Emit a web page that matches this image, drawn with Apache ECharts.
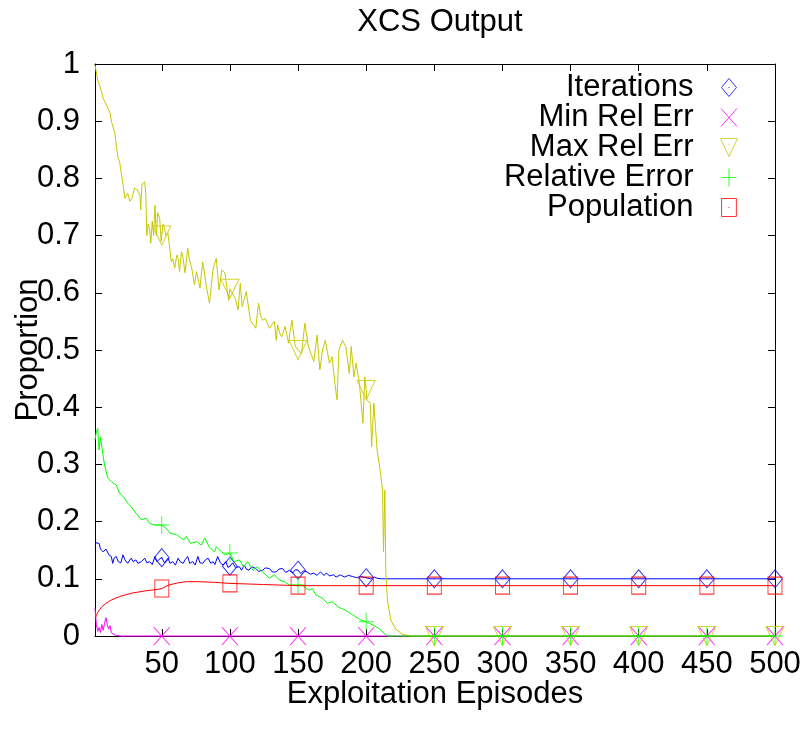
<!DOCTYPE html>
<html><head><meta charset="utf-8">
<script src="https://cdn.jsdelivr.net/npm/echarts@6/dist/echarts.min.js"></script>
<style>html,body{margin:0;padding:0;background:#fff}#c{width:802px;height:733px}</style>
</head><body><div id="c"></div>
<script>
const titleText = 'XCS Output';
const xName = 'Exploitation Episodes';
const yName = 'Proportion';
const seriesNames = ['Iterations', 'Min Rel Err', 'Max Rel Err', 'Relative Error', 'Population'];
const xTicks = [50, 100, 150, 200, 250, 300, 350, 400, 450, 500];
const markerX = [50, 100, 150, 200, 250, 300, 350, 400, 450, 500];

const iterLine = [[1,0.159],[2,0.163],[3,0.16],[4,0.162],[5,0.152],[6,0.155],[7,0.147],[8,0.147],[9,0.152],[10.4,0.15],[11.5,0.141],[13,0.139],[14,0.127],[15,0.136],[16.6,0.139],[18,0.13],[19,0.133],[20,0.128],[21.5,0.142],[23,0.133],[25,0.127],[26,0.131],[27.6,0.136],[29,0.13],[31,0.133],[32.5,0.127],[33.8,0.124],[35,0.13],[37.5,0.136],[39,0.128],[41,0.13],[43,0.125],[45,0.139],[46.5,0.13],[48,0.134],[50,0.137],[52,0.128],[54.6,0.136],[56,0.127],[58,0.13],[60,0.124],[62,0.136],[63.5,0.13],[65.7,0.127],[67,0.133],[69,0.139],[70.5,0.127],[72.7,0.13],[74.5,0.124],[76.5,0.139],[78,0.128],[80,0.127],[82,0.133],[84,0.136],[86,0.127],[87.7,0.13],[89,0.125],[91,0.139],[93,0.128],[95,0.124],[97,0.13],[98.5,0.12],[100,0.122],[102,0.128],[104,0.12],[107,0.121],[108.5,0.115],[110.5,0.124],[112,0.117],[114,0.115],[116,0.121],[119,0.118],[121,0.113],[124,0.115],[126,0.119],[129,0.118],[131,0.112],[134,0.112],[136,0.117],[138.6,0.118],[141,0.111],[143.6,0.115],[146,0.11],[148,0.116],[150,0.115],[152,0.109],[154,0.114],[156.6,0.112],[159,0.108],[161.5,0.11],[164,0.106],[166.4,0.112],[169,0.106],[171,0.11],[173,0.105],[176,0.107],[178,0.103],[181,0.107],[184,0.103],[187,0.106],[190,0.104],[193,0.102],[196,0.104],[200,0.102],[203,0.1],[206,0.103],[208,0.101],[211,0.1],[214.5,0.1],[250,0.1],[300,0.1],[350,0.1],[400,0.1],[450,0.1],[500,0.1]];
const minLine = [[1,0.048],[2,0.02],[3,0.008],[4,0.015],[5,0.006],[6,0.02],[7,0.01],[8,0.022],[9,0.032],[10,0.02],[11,0.012],[12,0.018],[13,0.006],[14,0.004],[15,0.002],[17,0.001],[20,0],[50,0],[100,0],[150,0],[200,0],[250,0],[300,0],[350,0],[400,0],[450,0],[500,0]];
const maxLine = [[1,0.998],[3,0.972],[5,0.958],[7,0.94],[9,0.93],[10.5,0.922],[12,0.915],[13,0.9],[15.5,0.88],[17,0.85],[18,0.835],[19,0.83],[21.5,0.79],[23,0.765],[25,0.774],[26.5,0.76],[28,0.765],[30,0.783],[32,0.78],[34,0.771],[34.5,0.745],[35.5,0.79],[37.5,0.794],[38.3,0.771],[39,0.7],[40,0.72],[41,0.713],[42,0.687],[43,0.725],[44,0.7],[45,0.753],[46,0.7],[47,0.74],[48.5,0.73],[49.5,0.69],[50,0.7],[51,0.72],[52,0.713],[53,0.7],[54.5,0.705],[57,0.654],[58,0.66],[59.5,0.643],[61,0.666],[62,0.66],[63,0.637],[64.5,0.672],[65.7,0.66],[67,0.635],[69,0.678],[70.5,0.655],[72,0.643],[74,0.614],[75.5,0.637],[77,0.62],[78,0.608],[80,0.654],[81,0.64],[82.5,0.614],[85,0.582],[87.7,0.643],[90,0.66],[92,0.605],[94,0.64],[96.3,0.635],[99,0.587],[100,0.607],[102.5,0.596],[104,0.59],[106,0.57],[107.6,0.617],[109,0.576],[112,0.602],[115,0.552],[117,0.545],[119,0.538],[121,0.582],[122.5,0.56],[124,0.552],[126,0.555],[129,0.538],[131,0.545],[132.6,0.55],[134,0.517],[135,0.544],[136.5,0.53],[138,0.523],[140.5,0.541],[143,0.512],[144,0.53],[145.5,0.552],[148,0.506],[150,0.5],[152.6,0.494],[155,0.547],[157.6,0.506],[160,0.49],[161.6,0.48],[164,0.526],[166,0.465],[168,0.5],[170,0.517],[173,0.477],[175,0.488],[177,0.442],[178.6,0.413],[180,0.5],[182.6,0.517],[185,0.506],[187.6,0.459],[189,0.506],[191,0.453],[192.6,0.477],[195,0.442],[197.6,0.372],[199,0.453],[200,0.43],[200.5,0.413],[203,0.407],[204,0.331],[205.6,0.407],[208,0.325],[210.6,0.284],[212,0.255],[212.7,0.147],[213.7,0.255],[214.4,0.11],[215.6,0.063],[218,0.028],[221.7,0.012],[226.6,0.003],[233,0],[250,0],[300,0],[350,0],[400,0],[450,0],[500,0]];
const relLine = [[1,0.343],[2,0.357],[3,0.363],[3.5,0.34],[4,0.325],[5,0.348],[5.5,0.346],[6.7,0.319],[7.5,0.317],[8,0.299],[10.4,0.276],[13,0.27],[16.6,0.264],[19,0.25],[22.7,0.241],[25,0.232],[27.6,0.226],[31,0.215],[35,0.203],[38.7,0.206],[41,0.197],[44.8,0.194],[50,0.194],[53.4,0.188],[56,0.18],[61,0.177],[66,0.168],[68,0.174],[71,0.162],[75.5,0.165],[79,0.159],[81.6,0.171],[85,0.155],[88.7,0.147],[90,0.156],[91,0.159],[94,0.147],[96.5,0.142],[100,0.145],[103,0.13],[107,0.133],[110,0.121],[113,0.13],[117,0.115],[120,0.121],[124,0.112],[129,0.101],[132.6,0.107],[136.3,0.098],[140,0.095],[143.7,0.089],[150,0.089],[153,0.089],[158,0.08],[160.5,0.083],[163,0.072],[168,0.066],[171.5,0.057],[175,0.06],[180,0.05],[185,0.045],[190,0.037],[196,0.028],[200,0.025],[205,0.019],[209.5,0.013],[214.5,0.002],[216,0],[250,0],[300,0],[350,0],[400,0],[450,0],[500,0]];
const popLine = [[1,0.03],[2,0.036],[3,0.041],[4,0.045],[6,0.051],[9,0.057],[13,0.063],[19,0.069],[28,0.075],[38.4,0.079],[48,0.082],[50,0.083],[55,0.089],[62,0.093],[68,0.095],[75,0.095],[87.7,0.094],[100,0.092],[124.7,0.09],[150,0.088],[173,0.088],[200,0.088],[250,0.088],[300,0.088],[350,0.088],[400,0.088],[450,0.088],[500,0.088]];

const iterMarks = [0.137, 0.122, 0.115, 0.102, 0.1, 0.1, 0.1, 0.1, 0.1, 0.1];
const minMarks = [0, 0, 0, 0, 0, 0, 0, 0, 0, 0];
const maxMarks = [0.7, 0.607, 0.5, 0.43, 0, 0, 0, 0, 0, 0];
const relMarks = [0.194, 0.145, 0.089, 0.025, 0, 0, 0, 0, 0, 0];
const popMarks = [0.083, 0.092, 0.088, 0.088, 0.088, 0.088, 0.088, 0.088, 0.088, 0.088];

const colors = ['#0000ff', '#ff00ff', '#c8c800', '#00ff00', '#ff0000'];
const symbols = [
  'path://M7.5,0 L15,9 L7.5,18 L0,9 Z M7,9 L8,9',
  'path://M0,0 L16,18 M16,0 L0,18',
  'path://M0,0 L18,0 L9,19 Z M8.5,6.3 L9.5,6.3',
  'path://M7.5,0 L7.5,18 M0,9 L15,9',
  'path://M0,0 L14,0 L14,17 L0,17 Z M6.5,8.5 L7.5,8.5'
];
const symSizes = [[15,18],[16,18],[18,19],[15,18],[14,17]];
const lines = [iterLine, minLine, maxLine, relLine, popLine];
const marks = [iterMarks, minMarks, maxMarks, relMarks, popMarks];

const FONT = 'Liberation Sans, Arial, sans-serif';
const FS = 31;
const series = [];
seriesNames.forEach((n, i) => {
  series.push({
    name: n + ' line', type: 'line', data: lines[i], showSymbol: false, symbol: 'none',
    lineStyle: { color: colors[i], width: 1 }, itemStyle: { color: colors[i] },
    clip: false, silent: true, z: 2 + i * 0.1
  });
  series.push({
    name: n, type: 'scatter', data: markerX.map((x, k) => [x, marks[i][k]]),
    symbol: symbols[i], symbolSize: symSizes[i], symbolKeepAspect: false,
    itemStyle: { color: 'rgba(0,0,0,0)', borderColor: colors[i], borderWidth: 1 },
    clip: false, silent: true, z: 2 + i * 0.1 + 0.05
  });
});

const chart = echarts.init(document.getElementById('c'), null, { renderer: 'canvas' });
chart.setOption({
  animation: false,
  backgroundColor: '#fff',
  title: { text: titleText, left: 435, textAlign: 'center', top: 2,
    textStyle: { fontSize: FS, fontWeight: 'normal', color: '#000', fontFamily: FONT } },
  grid: { left: 95, right: 27, top: 64, bottom: 97, containLabel: false, outerBoundsMode: 'none' },
  legend: {
    data: seriesNames, orient: 'vertical', right: 59, top: 67, align: 'right',
    itemWidth: 61, itemHeight: 18, itemGap: -1,
    itemStyle: { borderWidth: 1 },
    textStyle: { fontSize: FS, lineHeight: 29, color: '#000', fontFamily: FONT },
    selectedMode: false
  },
  xAxis: [{
    type: 'value', min: 1, max: 500, position: 'bottom',
    axisLine: { show: true, onZero: false, lineStyle: { color: '#000', width: 1 } },
    axisTick: { show: true, inside: true, length: 7, customValues: xTicks, lineStyle: { color: '#000' } },
    axisLabel: { customValues: xTicks, fontSize: FS, color: '#000', margin: 13, fontFamily: FONT },
    splitLine: { show: false },
    name: xName, nameLocation: 'middle', nameGap: 43, nameMoveOverlap: false,
    nameTextStyle: { fontSize: FS, color: '#000', fontFamily: FONT }
  }, {
    type: 'value', min: 1, max: 500, position: 'top',
    axisLine: { show: true, onZero: false, lineStyle: { color: '#000', width: 1 } },
    axisTick: { show: true, inside: true, length: 7, customValues: xTicks, lineStyle: { color: '#000' } },
    axisLabel: { show: false }, splitLine: { show: false }
  }],
  yAxis: [{
    type: 'value', min: 0, max: 1, interval: 0.1, position: 'left',
    axisLine: { show: true, onZero: false, lineStyle: { color: '#000', width: 1 } },
    axisTick: { show: true, inside: true, length: 7, lineStyle: { color: '#000' } },
    axisLabel: { fontSize: FS, color: '#000', margin: 15, fontFamily: FONT },
    splitLine: { show: false },
    name: yName, nameLocation: 'middle', nameGap: 51, nameRotate: 90, nameMoveOverlap: false,
    nameTextStyle: { fontSize: FS, color: '#000', fontFamily: FONT }
  }, {
    type: 'value', min: 0, max: 1, interval: 0.1, position: 'right',
    axisLine: { show: true, onZero: false, lineStyle: { color: '#000', width: 1 } },
    axisTick: { show: true, inside: true, length: 7, lineStyle: { color: '#000' } },
    axisLabel: { show: false }, splitLine: { show: false }
  }],
  series: series
});
</script></body></html>
